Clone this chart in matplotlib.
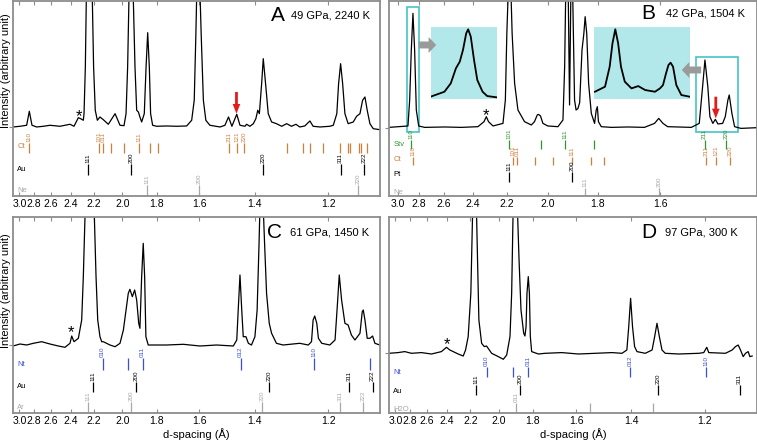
import numpy as np
import matplotlib.pyplot as plt
from matplotlib.patches import Rectangle

plt.rcParams['font.family'] = ['Liberation Sans', 'DejaVu Sans']

# ---- spectra: d-spacing (Å) and intensity above background (arbitrary units) ----
a_d = [3.096, 2.991, 2.898, 2.862, 2.827, 2.768, 2.687, 2.612, 2.506, 2.408,
       2.371, 2.332, 2.312, 2.289, 2.283, 2.272, 2.264, 2.239, 2.215, 2.205,
       2.192, 2.176, 2.156, 2.131, 2.095, 2.048, 2.015, 1.989, 1.976, 1.966,
       1.958, 1.945, 1.931, 1.921, 1.911, 1.901, 1.892, 1.882, 1.867, 1.857,
       1.848, 1.839, 1.832, 1.821, 1.800, 1.749, 1.701, 1.655, 1.633, 1.622,
       1.615, 1.612, 1.605, 1.597, 1.593, 1.584, 1.574, 1.558, 1.519, 1.501,
       1.488, 1.476, 1.459, 1.448, 1.431, 1.426, 1.415, 1.404, 1.396, 1.390,
       1.385, 1.378, 1.373, 1.366, 1.358, 1.348, 1.334, 1.319, 1.305, 1.292,
       1.280, 1.270, 1.257, 1.244, 1.236, 1.219, 1.196, 1.188, 1.180, 1.176,
       1.1715, 1.167, 1.162, 1.155, 1.144, 1.137, 1.130, 1.1246, 1.1198, 1.1152,
       1.1098, 1.1032, 1.0903]
a_i = [0, 0.7, 1.7, 15.7, 1.7, 0, 0.7, 1.7, 0.7, 2.7,
       0.7, 9.3, 8.3, 6.7, 13.3, 60, 127, 300, 127, 60,
       16.7, 6.7, 10, 7.3, 2.7, 13.3, 1.7, 1.3, 13.3, 60,
       127, 300, 127, 60, 16.7, 15, 10, 5, 13.3, 60,
       94.3, 60, 13.3, 1.7, 0.7, 1, 0.7, 1, 6.7, 26.7,
       93.3, 127, 300, 127, 93.3, 26.7, 6.7, 1.7, 0, 1.7,
       10, 0.7, 12.7, 1.7, 0.7, 2.7, 0.7, 3.3, 8.3, 16.7,
       13.3, 43.3, 68.3, 43.3, 13.3, 5, 3.3, 0.7, 3.3, 0.7,
       2.7, 0, 1, 6, 0.7, 0, 0.7, 1.7, 13.3, 43.3,
       63.3, 43.3, 13.3, 3.3, 5, 10.7, 13.3, 26.7, 30, 16.7,
       3.3, -1.7, -2.7]

b_d = [3.088, 2.900, 2.884, 2.869, 2.854, 2.839, 2.824, 2.803, 2.752, 2.594,
       2.475, 2.367, 2.330, 2.316, 2.303, 2.277, 2.221, 2.208, 2.200, 2.194,
       2.185, 2.177, 2.172, 2.159, 2.142, 2.109, 2.076, 2.061, 2.048, 2.042,
       2.033, 2.022, 2.000, 1.956, 1.935, 1.928, 1.924, 1.919, 1.913, 1.908,
       1.903, 1.899, 1.895, 1.888, 1.882, 1.875, 1.868, 1.859, 1.852, 1.847,
       1.841, 1.834, 1.824, 1.812, 1.806, 1.802, 1.798, 1.788, 1.753, 1.698,
       1.647, 1.617, 1.605, 1.593, 1.580, 1.517, 1.497, 1.488, 1.483, 1.476,
       1.471, 1.464, 1.458, 1.452, 1.441, 1.435, 1.429, 1.426, 1.420, 1.414,
       1.400, 1.366]
b_i = [0.3, 1.7, 27.7, 77.7, 114.3, 77.7, 17.7, 1.7, 0.3, 0.7,
       0.3, 1, 6, 11, 6, 1.7, 4.3, 27.7, 94.3, 128,
       300, 128, 94.3, 44.3, 17.7, 6, 2.7, 6, 12.7, 13.3,
       11.7, 4.3, 1.7, 1, 7.7, 61, 128, 300, 128, 22.7,
       128, 300, 128, 27.7, 17.7, 19, 25, 77.7, 94, 111,
       94, 44.3, 14.3, 4.3, 17.7, 21, 6, 1, 0.3, 0.7,
       0.3, 4.3, 9.3, 4.3, 1, 0.3, 4.3, 44.3, 67.7, 41,
       11, 4.3, 8.3, 3.7, 4.3, 11, 27.7, 32.7, 14.3, 1,
       -0.7, 0]

c_d = [3.096, 2.991, 2.898, 2.810, 2.707, 2.612, 2.523, 2.456, 2.408, 2.392,
       2.371, 2.332, 2.303, 2.289, 2.275, 2.239, 2.199, 2.186, 2.173, 2.156,
       2.143, 2.131, 2.083, 2.048, 2.015, 1.993, 1.976, 1.962, 1.952, 1.937,
       1.923, 1.911, 1.899, 1.892, 1.882, 1.873, 1.865, 1.858, 1.845, 1.749,
       1.670, 1.598, 1.532, 1.471, 1.459, 1.454, 1.448, 1.442, 1.437, 1.428,
       1.420, 1.410, 1.399, 1.392, 1.386, 1.384, 1.378, 1.372, 1.369, 1.363,
       1.355, 1.348, 1.334, 1.315, 1.270, 1.248, 1.240, 1.236, 1.232, 1.227,
       1.223, 1.215, 1.196, 1.184, 1.179, 1.1745, 1.1693, 1.162, 1.155, 1.148,
       1.1405, 1.130, 1.1253, 1.1232, 1.1198, 1.1152, 1.1098, 1.1045, 1.0999, 1.0903]
c_i = [-1, 1, 0, 1.7, 3.3, 1, -1, -2.3, 1.7, 9,
       3.3, 6.7, 25, 68.3, 128, 300, 128, 68.3, 25, 8.3,
       3.3, 3.3, 0, -1.7, 1.7, 15, 35, 51.7, 55.7, 48.3,
       55, 45, 21.7, 16.7, 68.3, 101.7, 68.3, 8.3, 0, 0,
       0.7, -1, 0, -1, 5, 35, 70, 35, 8.3, 8.3,
       1.7, 0, 8.3, 35, 101.7, 128, 300, 128, 101.7, 51.7,
       21.7, 11.7, 1.7, 0, 1.7, 0, 3.3, 25, 29, 21.7,
       6.7, 1.7, 0, 5, 38.3, 70, 45, 21.7, 20, 10,
       5, 11.7, 33.3, 35, 25, 6.7, 6.7, 9, 1.7, 0]

d_d = [3.096, 2.962, 2.870, 2.784, 2.664, 2.554, 2.453, 2.405, 2.374, 2.300,
       2.258, 2.239, 2.218, 2.197, 2.184, 2.166, 2.153, 2.146, 2.136, 2.116,
       2.097, 2.081, 2.046, 2.002, 1.970, 1.949, 1.929, 1.919, 1.911, 1.899,
       1.884, 1.876, 1.865, 1.850, 1.843, 1.837, 1.832, 1.825, 1.819, 1.814,
       1.807, 1.772, 1.739, 1.661, 1.590, 1.524, 1.464, 1.430, 1.414, 1.408,
       1.402, 1.396, 1.3895, 1.382, 1.357, 1.337, 1.3296, 1.323, 1.3163, 1.309,
       1.300, 1.264, 1.2146, 1.2028, 1.1958, 1.1912, 1.1541, 1.1399, 1.1329, 1.1274,
       1.1226, 1.1172, 1.1125, 1.1072, 1.1039, 1.0993]
d_i = [0, 0.7, 1.7, 0, 0.7, -0.7, 1.7, 6, 3.3, -0.7,
       -2.7, 3.3, 16.7, 60, 137, 300, 137, 93.3, 33.3, 10,
       6.7, 7.3, 0, -3.3, -6, -1.7, 16.7, 60, 137, 300,
       137, 93.3, 43.3, 20, 17.3, 26.7, 60, 76.7, 60, 16.7,
       1.7, -0.7, 0, 0.7, -0.7, 0, 0.7, 0, 3.3, 26.7,
       55, 26.7, 6.7, 1.7, 0, 3.3, 16.7, 30, 16.7, 3.3,
       0, -0.7, 0, 0.7, 6, 0.7, 0, 3.3, 6.7, 8.3,
       3.3, -3.3, 0, 1.7, -3.3, -2.7]

# magnified views in panel B (intensity as fraction of inset height)
ins1_d = [2.906, 2.884, 2.874, 2.866, 2.860, 2.855, 2.850, 2.847, 2.843, 2.838,
          2.833, 2.825, 2.818, 2.803]
ins1_i = [0.033, 0.102, 0.219, 0.428, 0.521, 0.684, 0.916, 0.972, 0.870, 0.544,
          0.265, 0.102, 0.042, 0.023]
ins2_d = [1.504, 1.493, 1.488, 1.485, 1.482, 1.479, 1.476, 1.472, 1.465, 1.458,
          1.451, 1.441, 1.436, 1.433, 1.430, 1.4276, 1.4255, 1.4231, 1.4199, 1.415,
          1.407]
ins2_i = [0.102, 0.172, 0.451, 0.777, 0.972, 0.777, 0.451, 0.242, 0.149, 0.181,
          0.126, 0.102, 0.149, 0.195, 0.358, 0.474, 0.507, 0.451, 0.195, 0.056,
          0.033]

# ---- reference reflections (d in Å) ----
a_ct = [2.862, 2.161, 2.131, 2.076, 1.989, 1.896, 1.836, 1.791, 1.485, 1.459, 1.433,
        1.305, 1.261, 1.244, 1.2115, 1.173, 1.156, 1.151, 1.132, 1.127, 1.115]
a_ct_hkl = ['110', '101', '011', '', '', '111', '', '', '211', '121', '220',
            '', '', '', '', '', '', '', '', '', '']
a_au = [2.248, 1.945, 1.373, 1.1715, 1.1213]
a_au_hkl = ['111', '200', '220', '311', '222']
a_ne = [1.854, 1.603, 1.1336]
a_ne_hkl = ['111', '200', '220']

b_stv = [2.869, 2.189, 2.030, 1.926, 1.815, 1.484, 1.433]
b_stv_hkl = ['110', '101', '', '111', '', '211', '220']
b_ct = [2.854, 2.168, 2.145, 2.057, 1.978, 1.897, 1.824, 1.779, 1.480, 1.456, 1.424]
b_ct_hkl = ['110', '101', '011', '', '', '111', '', '', '211', '121', '220']
b_pt = [2.190, 1.899]
b_pt_hkl = ['111', '200']
b_ne = [1.849, 1.603]
b_ne_hkl = ['111', '200']

c_nt = [2.136, 1.962, 1.876, 1.446, 1.233, 1.1095]
c_nt_hkl = ['010', '', '011', '012', '110', '']
c_au = [2.212, 1.917, 1.355, 1.1534, 1.1045]
c_au_hkl = ['111', '200', '220', '311', '222']
c_ar = [2.248, 1.947, 1.376, 1.173, 1.1232]
c_ar_hkl = ['111', '200', '220', '311', '222']

d_nt = [2.081, 1.909, 1.825, 1.403, 1.1966]
d_nt_hkl = ['010', '', '011', '012', '110']
d_au = [2.158, 1.871, 1.320, 1.1246]
d_au_hkl = ['111', '200', '220', '311']
d_h2o = [1.894, 1.543, 1.335]
d_h2o_hkl = ['011', '', '']

ticks_wide = [3.0, 2.8, 2.6, 2.4, 2.2, 2.0, 1.8, 1.6, 1.4, 1.2]
ticks_b = [3.0, 2.8, 2.6, 2.4, 2.2, 2.0, 1.8, 1.6]

FRAME = '#8c8c8c'
C_CT = '#cd7f3c'
C_STV = '#2f962f'
C_NT = '#3a4fd8'
C_GRAY = '#a8a8a8'
CYAN = '#45c4c6'
CYAN_FILL = '#b3e8ea'
RED = '#e51b1b'


def inv(d):
    d = np.asarray(d, dtype=float)
    with np.errstate(divide='ignore'):
        return 1.0 / d


def setup(ax, xlim, ylim, ticks):
    # x axis linear in 1/d; limits given small-d first so large d sits on the left
    ax.set_xscale('function', functions=(inv, inv))
    ax.set_xlim(min(xlim), max(xlim))
    ax.set_ylim(*ylim)
    ax.set_xticks(ticks)
    ax.set_xticklabels([f'{t:.1f}' for t in ticks])
    ax.tick_params(axis='x', which='both', direction='in', top=True, length=3,
                   width=0.8, color=FRAME, labelsize=7.5, pad=2)
    ax.set_yticks([0])
    ax.set_yticklabels([])
    ax.tick_params(axis='y', direction='out', length=3, width=0.8, color=FRAME)
    for s in ax.spines.values():
        s.set_color(FRAME)
        s.set_linewidth(1.3)


def row(ax, name, ds, hkl, y0, y1, ny, color):
    tr = ax.get_xaxis_transform()
    ax.vlines(ds, y0, y1, transform=tr, color=color, lw=0.9)
    for d, lab in zip(ds, hkl):
        if lab:
            ax.text(d, y1 + 0.004, lab, transform=tr, rotation=90, ha='center',
                    va='bottom', fontsize=4.5, color=color)
    ax.text(0.012, ny, name, transform=ax.transAxes, fontsize=5.5, color=color,
            va='center', ha='left')


def title(ax, letter, info, xl, xi, y):
    ax.text(xl, y, letter, transform=ax.transAxes, fontsize=15, ha='right', va='center')
    ax.text(xi, y, info, transform=ax.transAxes, fontsize=8, ha='left', va='center')


fig = plt.figure(figsize=(7.57, 4.41), dpi=100)
axA = fig.add_axes([0.0172, 0.5556, 0.4848, 0.4422])
axB = fig.add_axes([0.5139, 0.5556, 0.4861, 0.4422])
axC = fig.add_axes([0.0172, 0.0635, 0.4848, 0.4444])
axD = fig.add_axes([0.5139, 0.0635, 0.4861, 0.4444])

# ---- A ----
setup(axA, (3.096, 1.090), (-69, 126), ticks_wide)
axA.plot(a_d, a_i, color='k', lw=0.9)
row(axA, 'Ct', a_ct, a_ct_hkl, 0.221, 0.272, 0.256, C_CT)
row(axA, 'Au', a_au, a_au_hkl, 0.108, 0.164, 0.138, 'k')
row(axA, 'Ne', a_ne, a_ne_hkl, 0.0, 0.056, 0.026, C_GRAY)
axA.text(2.325, 10, '*', ha='center', va='center', fontsize=12)
axA.annotate('', xy=(1.460, 13.3), xytext=(1.460, 35),
             arrowprops=dict(arrowstyle='simple,head_width=0.55,head_length=0.7,tail_width=0.2',
                             color=RED, lw=0, shrinkA=0, shrinkB=0))
title(axA, 'A', '49 GPa, 2240 K', 0.74, 0.757, 0.928)

# ---- B ----
setup(axB, (3.088, 1.366), (-68.3, 126.7), ticks_b)
axB.plot(b_d, b_i, color='k', lw=0.9)
row(axB, 'Stv', b_stv, b_stv_hkl, 0.241, 0.287, 0.262, C_STV)
row(axB, 'Ct', b_ct, b_ct_hkl, 0.159, 0.200, 0.185, C_CT)
row(axB, 'Pt', b_pt, b_pt_hkl, 0.072, 0.123, 0.108, 'k')
row(axB, 'Ne', b_ne, b_ne_hkl, 0.0, 0.041, 0.020, C_GRAY)
axB.text(2.316, 12.5, '*', ha='center', va='center', fontsize=12)
axB.annotate('', xy=(1.457, 9.3), xytext=(1.457, 31),
             arrowprops=dict(arrowstyle='simple,head_width=0.55,head_length=0.7,tail_width=0.2',
                             color=RED, lw=0, shrinkA=0, shrinkB=0))
axB.add_patch(Rectangle((2.803, -4), 2.906 - 2.803, 125, fill=False, ec=CYAN, lw=1.2))
axB.add_patch(Rectangle((1.407, -4), 1.505 - 1.407, 74.3, fill=False, ec=CYAN, lw=1.2))
for bounds, xd, yd, xl in [([0.113, 0.497, 0.181, 0.368], ins1_d, ins1_i, (2.803, 2.906)),
                           ([0.557, 0.497, 0.260, 0.368], ins2_d, ins2_i, (1.407, 1.505))]:
    ins = axB.inset_axes(bounds)
    ins.set_xscale('function', functions=(inv, inv))
    ins.set_xlim(*xl)
    ins.set_ylim(0, 1)
    ins.set_facecolor(CYAN_FILL)
    ins.plot(xd, yd, color='k', lw=1.3)
    ins.set_xticks([])
    ins.set_yticks([])
    for s in ins.spines.values():
        s.set_visible(False)
gray_arrow = dict(arrowstyle='simple,head_width=1.15,head_length=0.55,tail_width=0.5',
                  color='#9a9a9a', lw=0, shrinkA=0, shrinkB=0)
axB.annotate('', xy=(2.658, 82.7), xytext=(2.803, 82.7), arrowprops=gray_arrow, zorder=6)
axB.annotate('', xy=(1.5418, 57.7), xytext=(1.4923, 57.7), arrowprops=gray_arrow, zorder=6)
title(axB, 'B', '42 GPa, 1504 K', 0.723, 0.753, 0.937)

# ---- C ----
setup(axC, (3.096, 1.090), (-68, 128), ticks_wide)
axC.plot(c_d, c_i, color='k', lw=0.9)
row(axC, 'Nt', c_nt, c_nt_hkl, 0.219, 0.281, 0.245, C_NT)
row(axC, 'Au', c_au, c_au_hkl, 0.107, 0.158, 0.133, 'k')
row(axC, 'Ar', c_ar, c_ar_hkl, 0.0, 0.056, 0.026, C_GRAY)
axC.text(2.397, 12, '*', ha='center', va='center', fontsize=12)
axC.set_xlabel('d-spacing (Å)', fontsize=8, labelpad=2)
title(axC, 'C', '61 GPa, 1450 K', 0.733, 0.755, 0.92)

# ---- D ----
setup(axD, (3.096, 1.090), (-59.7, 136.3), ticks_wide)
axD.plot(d_d, d_i, color='k', lw=0.9)
row(axD, 'Nt', d_nt, d_nt_hkl, 0.184, 0.235, 0.209, C_NT)
row(axD, 'Au', d_au, d_au_hkl, 0.092, 0.143, 0.112, 'k')
row(axD, 'H2O', d_h2o, d_h2o_hkl, 0.0, 0.051, 0.020, C_GRAY)
axD.text(2.40, 9, '*', ha='center', va='center', fontsize=12)
axD.set_xlabel('d-spacing (Å)', fontsize=8, labelpad=2)
title(axD, 'D', '97 GPa, 300 K', 0.726, 0.75, 0.92)

for yc in (0.839, 0.342):
    fig.text(0.008, yc, 'Intensity (arbitrary unit)', rotation=90, ha='center',
             va='center', fontsize=8)

fig.savefig('out.png', dpi=100)
